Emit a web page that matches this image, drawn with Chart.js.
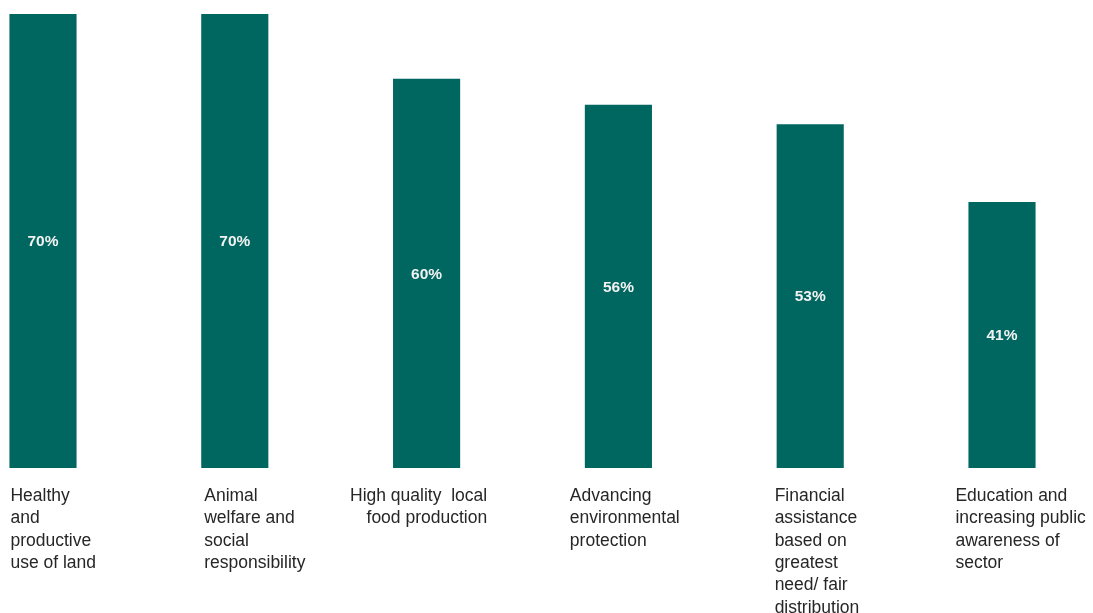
<!DOCTYPE html>
<html>
<head>
<meta charset="utf-8">
<script src="https://cdn.jsdelivr.net/npm/chart.js@4.4.1/dist/chart.umd.min.js"></script>
<style>
  html, body { margin: 0; padding: 0; background: #ffffff; }
  canvas { display: block; }
</style>
</head>
<body>
<canvas id="chart" width="1093" height="613"></canvas>
<script>
// Data
const categories = [
    ['Healthy', 'and', 'productive', 'use of land'],
    ['Animal', 'welfare and', 'social', 'responsibility'],
    ['High quality  local', 'food production'],
    ['Advancing', 'environmental', 'protection'],
    ['Financial', 'assistance', 'based on', 'greatest', 'need/ fair', 'distribution'],
    ['Education and', 'increasing public', 'awareness of', 'sector']
];
const shares = [70, 70, 60, 56, 53, 41];

// Label placement relative to each bar (style only)
const labelAlign = ['left', 'left', 'right', 'left', 'left', 'left'];
const labelNudge = [1, 3, 27, -15, -2, -13];

const barColor = '#006660';
const textColor = '#262626';

// Draws the value inside each bar and the wrapped category text below it
const labelPlugin = {
    id: 'barLabels',
    afterDatasetsDraw(chart) {
        const ctx = chart.ctx;
        const meta = chart.getDatasetMeta(0);
        ctx.save();
        meta.data.forEach((bar, i) => {
            const half = bar.width / 2;
            // value label
            ctx.font = "bold 15.5px 'Liberation Sans', Arial, sans-serif";
            ctx.fillStyle = '#f2f2f2';
            ctx.textAlign = 'center';
            ctx.textBaseline = 'middle';
            ctx.fillText(shares[i] + '%', bar.x, (bar.y + bar.base) / 2 + 1);

            // category label
            ctx.font = "17.5px 'Liberation Sans', Arial, sans-serif";
            ctx.fillStyle = textColor;
            ctx.textAlign = labelAlign[i];
            const anchor = labelAlign[i] === 'right' ? bar.x + half : bar.x - half;
            categories[i].forEach((line, j) => {
                ctx.fillText(line, anchor + labelNudge[i], bar.base + 28 + j * 22.4);
            });
        });
        ctx.restore();
    }
};

new Chart(document.getElementById('chart').getContext('2d'), {
    type: 'bar',
    data: {
        labels: categories.map(c => c.join(' ')),
        datasets: [{
            data: shares,
            backgroundColor: barColor,
            borderWidth: 0,
            categoryPercentage: 1,
            barPercentage: 0.35,
            clip: false
        }]
    },
    options: {
        responsive: false,
        animation: false,
        layout: {
            padding: { left: 43, right: 91, top: 14, bottom: 145 }
        },
        plugins: {
            legend: { display: false },
            tooltip: { enabled: false }
        },
        scales: {
            x: { display: false, offset: false, grid: { display: false } },
            y: { display: false, min: 0, max: 70 }
        }
    },
    plugins: [labelPlugin]
});
</script>
</body>
</html>
